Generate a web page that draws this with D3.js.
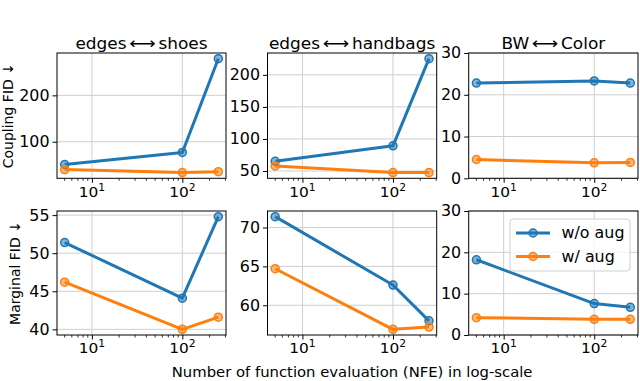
<!DOCTYPE html>
<html><head><meta charset="utf-8">
<script src="https://cdn.jsdelivr.net/npm/d3@7"></script>
<style>html,body{margin:0;padding:0;background:#fff;}svg{display:block;font-family:"DejaVu Sans",sans-serif;}</style>
</head><body>
<svg id="c" width="640" height="381"></svg>
<script>
// ---- data ----
const nfe = [5, 100, 250];
const seriesNames = ["w/o aug", "w/ aug"];
const seriesColors = ["#1f77b4", "#ff7f0e"];
const titleLeft = ["edges", "edges", "BW"];
const titleRight = ["shoes", "handbags", "Color"];
const titleArrow = "⟷";
const rowLabels = ["Coupling FID ↓", "Marginal FID ↓"];
const xLabel = "Number of function evaluation (NFE) in log-scale";

const shoesCouplingWo = [51, 77, 279];
const shoesCouplingW = [40, 33.5, 35.6];
const handbagsCouplingWo = [65.2, 89.3, 225.2];
const handbagsCouplingW = [57.9, 47.5, 47.5];
const colorCouplingWo = [22.8, 23.3, 22.8];
const colorCouplingW = [4.5, 3.7, 3.8];
const shoesMarginalWo = [51.4, 44.1, 54.8];
const shoesMarginalW = [46.2, 40.0, 41.6];
const handbagsMarginalWo = [71.4, 62.6, 58.0];
const handbagsMarginalW = [64.7, 56.9, 57.2];
const colorMarginalWo = [18.2, 7.6, 6.7];
const colorMarginalW = [4.2, 3.8, 3.8];

const xTickExps = [1, 2];
const yTicksShoesCoupling = [100, 200];
const yTicksHandbagsCoupling = [50, 100, 150, 200];
const yTicksColorCoupling = [0, 10, 20, 30];
const yTicksShoesMarginal = [40, 45, 50, 55];
const yTicksHandbagsMarginal = [60, 65, 70];
const yTicksColorMarginal = [0, 10, 20, 30];
const fixedColorLimits = [0, 30];

// ---- layout / style ----
const colX = [[57, 226], [267.5, 436.7], [468.7, 638]];
const rowY = [[53, 178.3], [211, 335]];
const SX = 1.06;           // horizontal stretch of the reference text
const FS_TICK = 15, FS_TITLE = 16, FS_LABEL = 14, FS_LEG = 15;

const svg = d3.select("#c");

function addText(parent, x, y, str, size, anchor) {
  const g = parent.append("g").attr("transform", `translate(${x},${y}) scale(${SX},1)`);
  const t = g.append("text").attr("x", 0).attr("y", 0).attr("font-size", size)
    .attr("text-anchor", anchor || "start").attr("fill", "#000");
  if (str !== null) t.text(str);
  return t;
}

const panels = [
  {r:0,c:0,s:[shoesCouplingWo,shoesCouplingW],ticks:yTicksShoesCoupling},
  {r:0,c:1,s:[handbagsCouplingWo,handbagsCouplingW],ticks:yTicksHandbagsCoupling},
  {r:0,c:2,s:[colorCouplingWo,colorCouplingW],ticks:yTicksColorCoupling,fixed:fixedColorLimits},
  {r:1,c:0,s:[shoesMarginalWo,shoesMarginalW],ticks:yTicksShoesMarginal},
  {r:1,c:1,s:[handbagsMarginalWo,handbagsMarginalW],ticks:yTicksHandbagsMarginal},
  {r:1,c:2,s:[colorMarginalWo,colorMarginalW],ticks:yTicksColorMarginal,fixed:fixedColorLimits,legend:true},
];

const lx0 = Math.log10(d3.min(nfe)), lx1 = Math.log10(d3.max(nfe));
const lm = (lx1 - lx0) * 0.05;
const xDomain = [Math.pow(10, lx0 - lm), Math.pow(10, lx1 + lm)];

panels.forEach(p => {
  const [x0, x1] = colX[p.c], [y0, y1] = rowY[p.r];
  const x = d3.scaleLog().domain(xDomain).range([x0, x1]);
  let yd;
  if (p.fixed) yd = p.fixed;
  else {
    const all = p.s.flat();
    const mn = d3.min(all), mx = d3.max(all), m = (mx - mn) * 0.05;
    yd = [mn - m, mx + m];
  }
  const y = d3.scaleLinear().domain(yd).range([y1, y0]);
  const g = svg.append("g");
  const clipId = "clip" + p.r + p.c;
  g.append("clipPath").attr("id", clipId).append("rect")
    .attr("x", x0).attr("y", y0).attr("width", x1 - x0).attr("height", y1 - y0);

  // grid
  xTickExps.forEach(e => {
    const xv = x(Math.pow(10, e));
    g.append("line").attr("x1", xv).attr("x2", xv).attr("y1", y0).attr("y2", y1)
      .attr("stroke", "#cfcfcf").attr("stroke-width", 1);
  });
  p.ticks.forEach(t => {
    const yv = y(t);
    g.append("line").attr("x1", x0).attr("x2", x1).attr("y1", yv).attr("y2", yv)
      .attr("stroke", "#cfcfcf").attr("stroke-width", 1);
  });

  // x axis (major + minor ticks)
  const xAx = d3.axisBottom(x).tickValues(xTickExps.map(e => Math.pow(10, e))).tickSize(4.5).tickFormat("");
  const gx = g.append("g").attr("transform", `translate(0,${y1})`).call(xAx);
  gx.select(".domain").remove();
  gx.selectAll("line").attr("stroke", "#000").attr("stroke-width", 1);
  const minors = [];
  for (let e = 0; e <= 2; e++) for (let k = 2; k <= 9; k++) {
    const v = k * Math.pow(10, e);
    if (v >= xDomain[0] && v <= xDomain[1]) minors.push(v);
  }
  minors.forEach(v => {
    g.append("line").attr("x1", x(v)).attr("x2", x(v)).attr("y1", y1).attr("y2", y1 + 2.5)
      .attr("stroke", "#000").attr("stroke-width", 0.8);
  });
  xTickExps.forEach(e => {
    const t = addText(g, x(Math.pow(10, e)), y1 + 18.3, null, FS_TICK - 0.5, "middle");
    t.append("tspan").text("10");
    t.append("tspan").attr("dy", -6).attr("font-size", (FS_TICK - 0.5) * 0.7).text(String(e));
  });

  // y axis
  const yAx = d3.axisLeft(y).tickValues(p.ticks).tickSize(4.5).tickFormat("");
  const gy = g.append("g").attr("transform", `translate(${x0},0)`).call(yAx);
  gy.select(".domain").remove();
  gy.selectAll("line").attr("stroke", "#000").attr("stroke-width", 1);
  p.ticks.forEach(t => {
    addText(g, x0 - 7.5, y(t) + 5.4, d3.format("d")(t), FS_TICK, "end");
  });

  // series
  const plot = g.append("g").attr("clip-path", `url(#${clipId})`);
  p.s.forEach((vals, i) => {
    const pts = nfe.map((n, j) => [n, vals[j]]);
    plot.append("path").datum(pts)
      .attr("d", d3.line().x(d => x(d[0])).y(d => y(d[1])))
      .attr("fill", "none").attr("stroke", seriesColors[i]).attr("stroke-width", 3)
      .attr("stroke-linejoin", "round");
    pts.forEach(d => {
      g.append("circle").attr("cx", x(d[0])).attr("cy", y(d[1])).attr("r", 4)
        .attr("fill", seriesColors[i]).attr("fill-opacity", 0.55)
        .attr("stroke", seriesColors[i]).attr("stroke-width", 1.5);
    });
  });

  // frame
  g.append("rect").attr("x", x0).attr("y", y0).attr("width", x1 - x0).attr("height", y1 - y0)
    .attr("fill", "none").attr("stroke", "#000").attr("stroke-width", 1);

  // title: left word, stretched long arrow, right word
  if (p.r === 0) {
    const tg = g.append("g").attr("transform", `translate(${(x0 + x1) / 2},49) scale(${SX},1)`);
    const tl = tg.append("text").attr("font-size", FS_TITLE).text(titleLeft[p.c]);
    const ta = tg.append("text").attr("font-size", FS_TITLE).text(titleArrow);
    const tr = tg.append("text").attr("font-size", FS_TITLE).text(titleRight[p.c]);
    const wl = tl.node().getComputedTextLength();
    const wa = ta.node().getComputedTextLength();
    const wr = tr.node().getComputedTextLength();
    const targetA = 25, gap = 2.5;
    const sa = targetA / wa;
    const total = wl + gap + targetA + gap + wr;
    const sx = -total / 2;
    tl.attr("x", sx);
    ta.attr("transform", `translate(${sx + wl + gap},0) scale(${sa},1)`);
    tr.attr("x", sx + wl + gap + targetA + gap);
  }

  if (p.legend) {
    const lg = g.append("g");
    lg.append("rect").attr("x", 510).attr("y", 219).attr("width", 120).attr("height", 52)
      .attr("rx", 3).attr("fill", "#fff").attr("fill-opacity", 0.8)
      .attr("stroke", "#d0d0d0").attr("stroke-width", 1);
    seriesNames.forEach((nm, i) => {
      const ly = 233 + i * 23.5;
      lg.append("line").attr("x1", 516).attr("x2", 550).attr("y1", ly).attr("y2", ly)
        .attr("stroke", seriesColors[i]).attr("stroke-width", 3);
      lg.append("circle").attr("cx", 533).attr("cy", ly).attr("r", 4)
        .attr("fill", seriesColors[i]).attr("fill-opacity", 0.55)
        .attr("stroke", seriesColors[i]).attr("stroke-width", 1.5);
      addText(lg, 561.5, ly + 5.3, nm, FS_LEG, "start");
    });
  }
});

// row labels
rowLabels.forEach((lab, r) => {
  const cy = (rowY[r][0] + rowY[r][1]) / 2;
  const cx = r === 0 ? 13 : 19.5;
  svg.append("text").attr("transform", `translate(${cx},${cy}) rotate(-90)`)
    .attr("text-anchor", "middle").attr("font-size", FS_LABEL).text(lab);
});

// x label
addText(svg, (colX[1][0] + colX[1][1]) / 2, 376.5, xLabel, FS_LABEL, "middle");
</script>
</body></html>
